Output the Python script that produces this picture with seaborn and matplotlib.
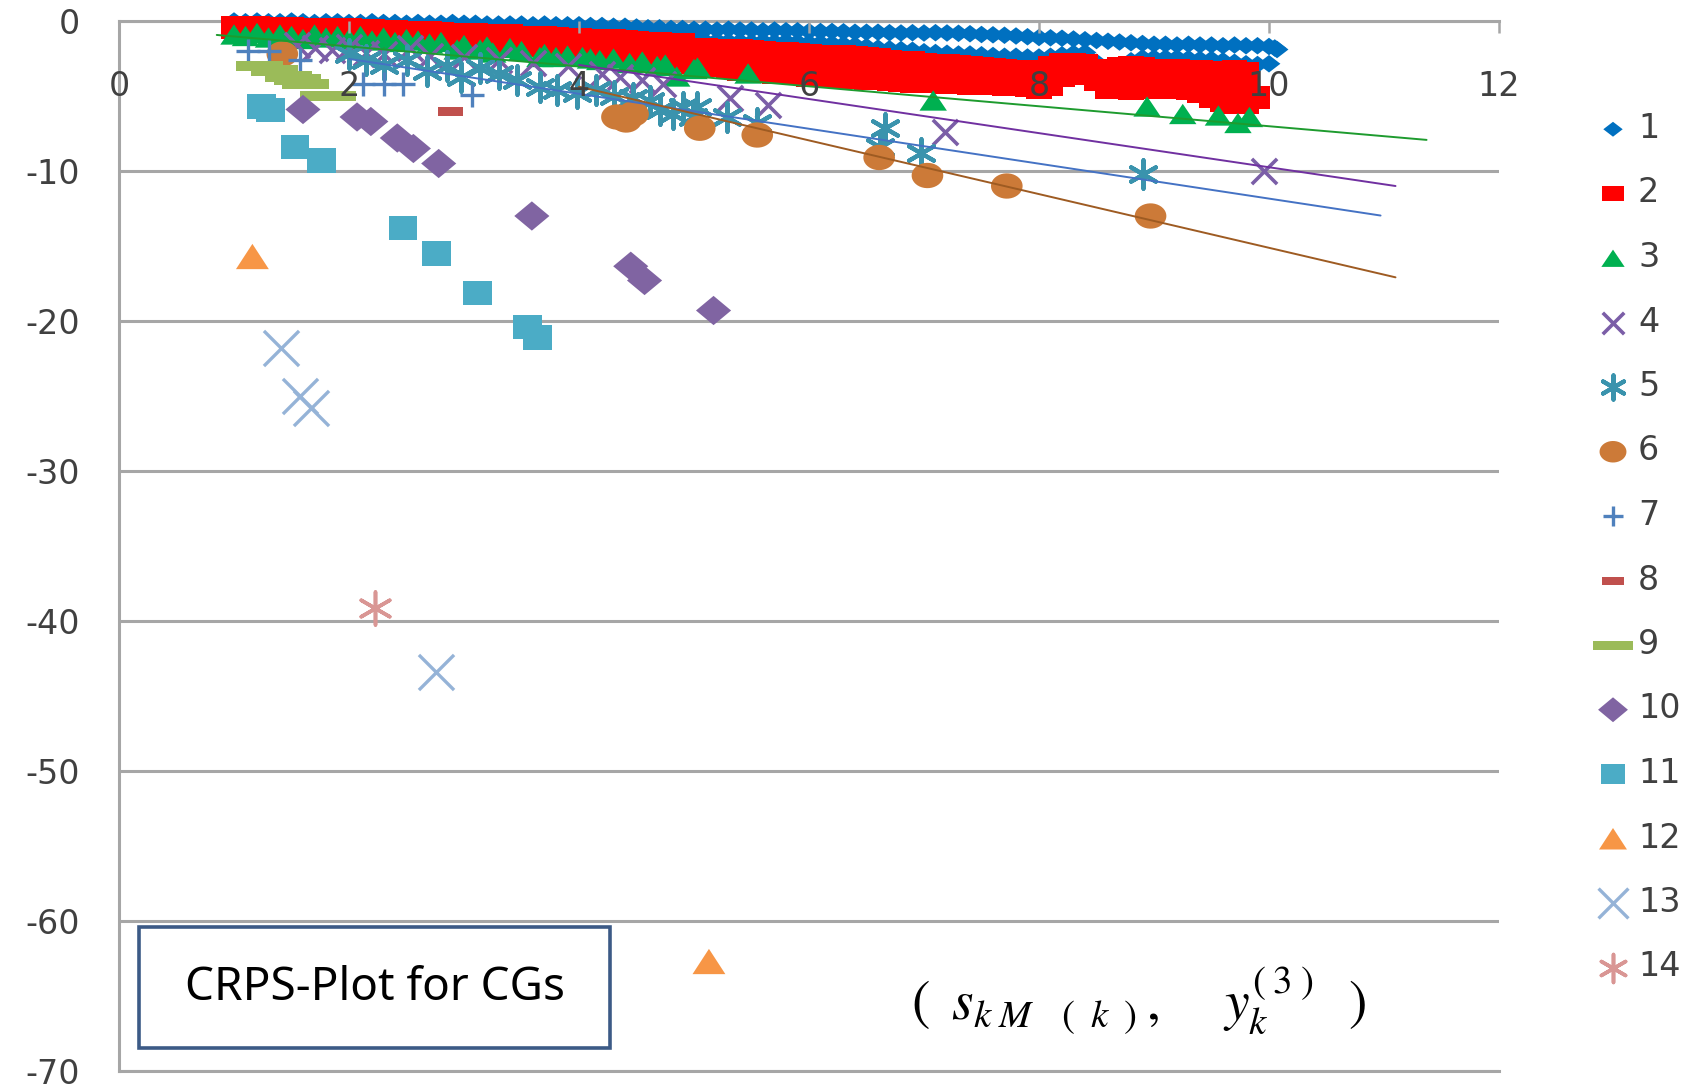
import numpy as np
import pandas as pd
import matplotlib
matplotlib.use("Agg")
import matplotlib.pyplot as plt
from matplotlib.patches import Rectangle
import seaborn as sns

# ---------------------------------------------------------------- data
grid_a = [1.0, 1.1, 1.2, 1.3, 1.4, 1.5, 1.6, 1.7, 1.8, 1.9, 2.0,
          2.1, 2.2, 2.3, 2.4, 2.5, 2.6, 2.7, 2.8, 2.9, 3.0,
          3.1, 3.2, 3.3, 3.4, 3.5, 3.6, 3.7, 3.8, 3.9, 4.0,
          4.1, 4.2, 4.3, 4.4, 4.5, 4.6, 4.7, 4.8, 4.9, 5.0,
          5.1, 5.2, 5.3, 5.4, 5.5, 5.6, 5.7, 5.8, 5.9, 6.0,
          6.1, 6.2, 6.3, 6.4, 6.5, 6.6, 6.7, 6.8, 6.9, 7.0,
          7.1, 7.2, 7.3, 7.4, 7.5, 7.6, 7.7, 7.8, 7.9, 8.0,
          8.1, 8.2, 8.3, 8.4, 8.5, 8.6, 8.7, 8.8, 8.9, 9.0,
          9.1, 9.2, 9.3, 9.4, 9.5, 9.6, 9.7, 9.8, 9.9, 10.0]

s1_upper = [0.0, -0.05, 0.0, -0.05, -0.05, 0.0, -0.05, -0.1, -0.05, -0.05, -0.1,
            -0.1, -0.05, -0.1, -0.1, -0.15, -0.1, -0.15, -0.15, -0.1, -0.15,
            -0.15, -0.2, -0.2, -0.2, -0.2, -0.25, -0.2, -0.25, -0.25, -0.25,
            -0.3, -0.3, -0.35, -0.35, -0.4, -0.45, -0.45, -0.5, -0.5, -0.55,
            -0.55, -0.6, -0.55, -0.6, -0.6, -0.65, -0.6, -0.65, -0.65, -0.7,
            -0.7, -0.7, -0.72, -0.75, -0.75, -0.75, -0.78, -0.8, -0.78, -0.8,
            -0.78, -0.8, -0.82, -0.85, -0.9, -0.92, -0.95, -1.0, -1.05, -1.1,
            -1.12, -1.15, -1.2, -1.25, -1.3, -1.35, -1.4, -1.45, -1.5, -1.55,
            -1.55, -1.6, -1.55, -1.6, -1.6, -1.65, -1.6, -1.65, -1.65, -1.7]
s1_lower = [-0.3, -0.35, -0.3, -0.35, -0.4, -0.35, -0.4, -0.4, -0.45, -0.4, -0.45,
            -0.45, -0.5, -0.45, -0.5, -0.5, -0.55, -0.5, -0.55, -0.55, -0.6,
            -0.6, -0.6, -0.65, -0.95, -0.7, -0.65, -0.7, -0.7, -0.75, -0.7,
            -0.75, -0.75, -0.8, -0.8, -0.85, -0.85, -0.9, -0.9, -0.95, -1.05,
            -1.35, -1.3, -1.35, -1.35, -1.4, -1.35, -1.4, -1.35, -1.4, -1.45,
            -1.45, -1.5, -1.55, -1.6, -1.7, -1.8, -1.85, -1.9, -1.95, -2.05,
            -2.1, -2.15, -2.2, -2.2, -2.25, -2.3, -2.35, -2.35, -2.4, -2.4,
            -2.35, -2.25, -2.15, -2.1, -2.75, -3.05, -2.95, -2.65, -2.45, -2.45,
            -2.45, -2.45, -2.5, -2.55, -2.55, -2.65, -2.75, -2.85, -2.9, -2.85]
s1_tip_x = [10.05, 10.07]
s1_tip_y = [-1.8, -1.9]

grid_b = grid_a[:-1]
s2_top = [-0.25, -0.3, -0.25, -0.3, -0.35, -0.3, -0.35, -0.4, -0.35, -0.4,
          -0.4, -0.45, -0.45, -0.5, -0.5, -0.55, -0.6, -0.6, -0.65, -0.7,
          -0.75, -0.7, -0.8, -0.85, -0.8, -0.9, -0.95, -0.9, -1.0, -1.05,
          -1.05, -1.1, -1.15, -1.1, -1.2, -1.25, -1.3, -1.3, -1.35, -1.4,
          -1.7, -1.7, -1.75, -1.75, -1.8, -1.85, -1.9, -1.95, -2.0, -2.05,
          -2.1, -2.15, -2.2, -2.2, -2.25, -2.3, -2.4, -2.5, -2.55, -2.6,
          -2.7, -2.75, -2.8, -2.85, -2.9, -3.0, -3.05, -3.1, -3.15, -3.2,
          -3.25, -2.9, -2.7, -2.7, -2.75, -3.1, -3.2, -2.95, -2.9, -3.0,
          -3.1, -3.15, -3.1, -3.2, -3.2, -3.25, -3.3, -3.2, -3.3, -4.9]
s2_mid = [-0.45, -0.5, -0.5, -0.5, -0.55, -0.6, -0.6, -0.65, -0.65, -0.7,
          -0.7, -0.75, -0.75, -0.8, -0.85, -0.9, -0.9, -0.95, -1.0, -1.05,
          -1.1, -1.1, -1.15, -1.2, -1.2, -1.25, -1.35, -1.35, -1.45, -1.5,
          -1.55, -1.65, -1.7, -1.75, -1.8, -1.9, -1.95, -2.0, -2.05, -2.1,
          -2.3, -2.35, -2.45, -2.5, -2.6, -2.65, -2.7, -2.8, -2.8, -2.9,
          -2.95, -3.0, -3.05, -3.1, -3.1, -3.15, -3.2, -3.3, -3.35, -3.4,
          -3.5, -3.5, -3.55, -3.55, -3.6, -3.65, -3.7, -3.75, -3.7, -3.85,
          -3.95, -3.65, -3.25, -3.15, -3.2, -3.6, -3.9, -3.8, -3.8, -3.8,
          -3.85, -3.85, -3.9, -3.95, -4.05, -4.2, -4.4, -4.4, -4.45, -5.1]
s2_bottom = [-0.65, -0.7, -0.75, -0.7, -0.8, -0.85, -0.8, -0.9, -0.95, -1.0,
             -1.05, -1.1, -1.05, -1.15, -1.2, -1.2, -1.25, -1.3, -1.35, -1.4,
             -1.45, -1.5, -1.55, -1.5, -1.6, -1.65, -1.75, -1.8, -1.9, -2.0,
             -2.1, -2.2, -2.3, -2.35, -2.45, -2.5, -2.6, -2.7, -2.75, -2.85,
             -2.95, -3.05, -3.15, -3.3, -3.4, -3.5, -3.55, -3.6, -3.65, -3.7,
             -3.8, -3.8, -3.9, -3.95, -3.9, -4.0, -4.05, -4.1, -4.15, -4.2,
             -4.25, -4.2, -4.3, -4.25, -4.35, -4.3, -4.35, -4.4, -4.3, -4.5,
             -4.65, -4.4, -3.8, -3.65, -3.7, -4.1, -4.6, -4.65, -4.7, -4.6,
             -4.6, -4.55, -4.65, -4.7, -4.9, -5.2, -5.5, -5.65, -5.6, -5.3]

s3_x = [1.0, 1.1, 1.2, 1.3, 1.4, 1.5, 1.6, 1.7, 1.8, 1.9,
        2.0, 2.1, 2.2, 2.3, 2.4, 2.5, 2.6, 2.7, 2.8, 2.94,
        3.0, 3.14, 3.2, 3.25, 3.4, 3.5, 3.66, 3.7, 3.8, 3.9,
        4.03, 4.1, 4.18, 4.3, 4.44, 4.55, 4.68, 4.75, 4.85, 5.0,
        5.03, 5.47, 7.08, 8.94, 9.25, 9.56, 9.73, 9.83]
s3_y = [-0.9, -1.0, -0.8, -1.1, -0.9, -1.0, -1.2, -0.9, -1.1, -1.0,
        -1.2, -1.0, -1.3, -1.1, -1.4, -1.2, -1.3, -1.5, -1.4, -1.9,
        -1.6, -1.9, -1.7, -2.1, -1.8, -2.0, -2.4, -2.2, -2.4, -2.3,
        -2.4, -2.5, -2.6, -2.5, -2.8, -2.7, -3.0, -2.9, -3.7, -3.2,
        -3.1, -3.5, -5.3, -5.7, -6.2, -6.3, -6.8, -6.4]

s4_x = [1.55, 1.7, 1.85, 2.0, 2.15, 2.3, 2.53, 2.7, 3.0, 3.3, 3.6, 3.9,
        4.2, 4.36, 4.55, 4.73, 5.31, 5.64, 7.18, 9.96]
s4_y = [-1.6, -1.8, -1.9, -1.7, -2.1, -2.2, -1.8, -2.3, -2.4, -2.6, -2.8, -3.0,
        -3.5, -3.7, -3.9, -4.2, -5.1, -5.6, -7.4, -10.0]

s5_x = [2.0, 2.15, 2.3, 2.5, 2.68, 2.85, 2.97, 3.14, 3.3, 3.46, 3.66, 3.81,
        3.98, 4.15, 4.3, 4.47, 4.62, 4.7, 4.82, 4.9, 4.99, 5.03, 5.29, 5.55,
        6.62, 6.66, 6.97, 8.9]
s5_y = [-2.2, -2.6, -2.9, -2.6, -3.3, -3.0, -3.7, -3.1, -3.5, -3.9, -4.4, -4.6,
        -4.8, -4.6, -5.0, -5.1, -5.3, -5.9, -6.2, -5.7, -6.4, -5.7, -6.4, -6.8,
        -8.4, -7.1, -8.8, -10.2]

s6_x = [1.42, 4.33, 4.47, 4.41, 5.05, 5.55, 6.61, 7.03, 7.72, 8.97]
s6_y = [-2.2, -6.4, -6.2, -6.6, -7.15, -7.6, -9.1, -10.3, -11.0, -13.0]

s7_x = [1.12, 1.3, 1.57, 2.12, 2.3, 2.47, 3.07]
s7_y = [-2.0, -2.0, -2.6, -4.2, -4.2, -4.2, -4.95]

s8_x = [2.88]
s8_y = [-6.05]

s9_x = [1.22, 1.35, 1.47, 1.55, 1.62, 1.78, 1.86]
s9_y = [-3.0, -3.3, -3.7, -3.9, -4.2, -5.0, -5.0]

s10_x = [1.6, 2.07, 2.19, 2.42, 2.56, 2.78, 3.59, 4.45, 4.57, 5.17]
s10_y = [-5.9, -6.4, -6.7, -7.8, -8.5, -9.5, -13.0, -16.35, -17.3, -19.3]

s11_x = [1.24, 1.32, 1.53, 1.76, 2.47, 2.76, 3.12, 3.55, 3.64]
s11_y = [-5.7, -5.95, -8.4, -9.3, -13.8, -15.5, -18.15, -20.4, -21.1]

s12_x = [1.16, 5.13]
s12_y = [-15.7, -62.7]

s13_x = [1.41, 1.57, 1.67, 2.76]
s13_y = [-21.8, -25.0, -25.8, -43.4]

s14_x = [2.23]
s14_y = [-39.1]

# linear trendlines: series label, intercept, slope, x-extent
trend_series = ["3", "4", "5", "6"]
trend_intercept = [-0.365, 1.62, -0.20, 2.78]
trend_slope = [-0.665, -1.137, -1.164, -1.79]
trend_x0 = [0.85, 4.0, 2.0, 4.0]
trend_x1 = [11.37, 11.1, 10.97, 11.1]
trend_colors = ["#1E9B2E", "#7030A0", "#4472C4", "#9E5B22"]

x_ticks = [0, 2, 4, 6, 8, 10, 12]
y_ticks = [0, -10, -20, -30, -40, -50, -60, -70]

# ---------------------------------------------------------------- marker shapes
def ell(w, h, n=40):
    t = np.linspace(0, 2 * np.pi, n)
    return np.column_stack([w * np.cos(t), h * np.sin(t)])

def rect(w, h):
    return np.array([[-w, -h], [w, -h], [w, h], [-w, h], [-w, -h]])

def diamond(w, h):
    return np.array([[0, -h], [w, 0], [0, h], [-w, 0], [0, -h]])

def tri(w, h):
    return np.array([[-w, -h], [w, -h], [0, h], [-w, -h]])

ASTER = (6, 2, 0)

series = [
    # label, x, y, marker, size, color, line width (0 = filled marker)
    ("1", grid_a + grid_a + s1_tip_x, s1_upper + s1_lower + s1_tip_y,
     diamond(1.3, 1.0), 270, "#0070C0", 0),
    ("2", grid_b + grid_b + grid_b, s2_top + s2_mid + s2_bottom,
     rect(1.5, 1.0), 340, "#FF0000", 0),
    ("3", s3_x, s3_y, tri(1.35, 1.0), 390, "#00B050", 0),
    ("4", s4_x, s4_y, "x", 330, "#7B5EA7", 2.6),
    ("5", s5_x, s5_y, ASTER, 420, "#3A93AD", 3.0),
    ("6", s6_x, s6_y, ell(1.25, 1.0), 520, "#CC7A38", 0),
    ("7", s7_x, s7_y, "+", 300, "#4F81BD", 2.4),
    ("8", s8_x, s8_y, rect(2.8, 1.0), 330, "#C0504D", 0),
    ("9", s9_x, s9_y, rect(4.5, 1.0), 1150, "#9BBB59", 0),
    ("10", s10_x, s10_y, diamond(1.2, 1.0), 640, "#8064A2", 0),
    ("11", s11_x, s11_y, rect(1.2, 1.0), 430, "#4BACC6", 0),
    ("12", s12_x, s12_y, tri(1.3, 1.0), 560, "#F79646", 0),
    ("13", s13_x, s13_y, "x", 640, "#95B3D7", 2.4),
    ("14", s14_x, s14_y, ASTER, 560, "#D99694", 2.6),
]

# ---------------------------------------------------------------- figure
sns.set_style("white")
plt.rcParams["font.family"] = ["DejaVu Sans"]
plt.rcParams["mathtext.fontset"] = "stix"

W, H = 1697, 1084
fig = plt.figure(figsize=(W / 100, H / 100), dpi=100)
ax = fig.add_axes([119 / W, 1 - 1071 / H, 1380 / W, 1050 / H])

grey = "#A6A6A6"
txt = "#404040"
FS = 24

for i, (lab, xs, ys, mk, sz, col, lw) in enumerate(series):
    df = pd.DataFrame({"x": xs, "y": ys})
    kw = dict(data=df, x="x", y="y", ax=ax, marker=mk, s=sz, label=lab,
              clip_on=False, zorder=3 + i * 0.01)
    if lw:
        sns.scatterplot(color=col, linewidth=lw, **kw)
    else:
        sns.scatterplot(color=col, edgecolor="none", linewidth=0, **kw)

for lab, a, b, x0, x1, col in zip(trend_series, trend_intercept, trend_slope,
                                  trend_x0, trend_x1, trend_colors):
    tx = [x0, x1]
    ty = [a + b * x0, a + b * x1]
    sns.lineplot(x=tx, y=ty, ax=ax, color=col, linewidth=1.4, zorder=5,
                 clip_on=False, legend=False, sort=False)

ax.set_xlim(0, 12)
ax.set_ylim(-70, 0)
ax.set_xlabel("")
ax.set_ylabel("")

ax.set_yticks(y_ticks)
ax.set_yticklabels([str(v) for v in y_ticks])
ax.set_xticks(x_ticks)
ax.set_xticklabels([str(v) for v in x_ticks])

ax.xaxis.tick_top()
ax.tick_params(axis="x", direction="in", length=8.5, width=1.8, color=grey,
               labelsize=FS, labelcolor=txt, pad=-59)
ax.tick_params(axis="y", direction="out", length=10, width=1.8, color=grey,
               labelsize=FS, labelcolor=txt, pad=18)

ax.yaxis.grid(True, color=grey, linewidth=2.2)
ax.xaxis.grid(False)
ax.set_axisbelow(False)
# x tick labels sit over the markers, y gridlines stay under them
ax.xaxis.set_zorder(20)
ax.yaxis.set_zorder(0.5)
for side in ["top", "left", "bottom"]:
    ax.spines[side].set_color(grey)
    ax.spines[side].set_linewidth(2.2)
    ax.spines[side].set_zorder(1)
ax.spines["right"].set_visible(False)

# legend down the right-hand side
handles, labels = ax.get_legend_handles_labels()
leg = ax.legend(handles[:14], labels[:14], loc="upper left",
                bbox_to_anchor=(1598 / W, 1 - 112 / H),
                bbox_transform=fig.transFigure, frameon=False, fontsize=FS,
                labelspacing=0.945, handlelength=0.9, handletextpad=0.3,
                borderpad=0, borderaxespad=0, markerscale=0.85)
for t in leg.get_texts():
    t.set_color(txt)

# caption box
fig.add_artist(Rectangle((139 / W, 1 - 1048 / H), 471 / W, 121 / H,
                         transform=fig.transFigure, facecolor="white",
                         edgecolor="#3C5A86", linewidth=2.6, zorder=10))
fig.text(375 / W, 1 - 988 / H, "CRPS-Plot for CGs", ha="center", va="center",
         fontsize=33, color="black", zorder=11,
         family=["Noto Sans", "DejaVu Sans"])

fig.text(1139 / W, 1 - 1000 / H,
         r"$(\;\;s_{k\;M\;\;\;\;(\;\;k\;\;)\;},\;\;\;\;\;y_{k}^{(\;3\;)}\;\;\;)$",
         ha="center", va="center", fontsize=40, color="black", zorder=11)

fig.savefig("out.png", dpi=100)
